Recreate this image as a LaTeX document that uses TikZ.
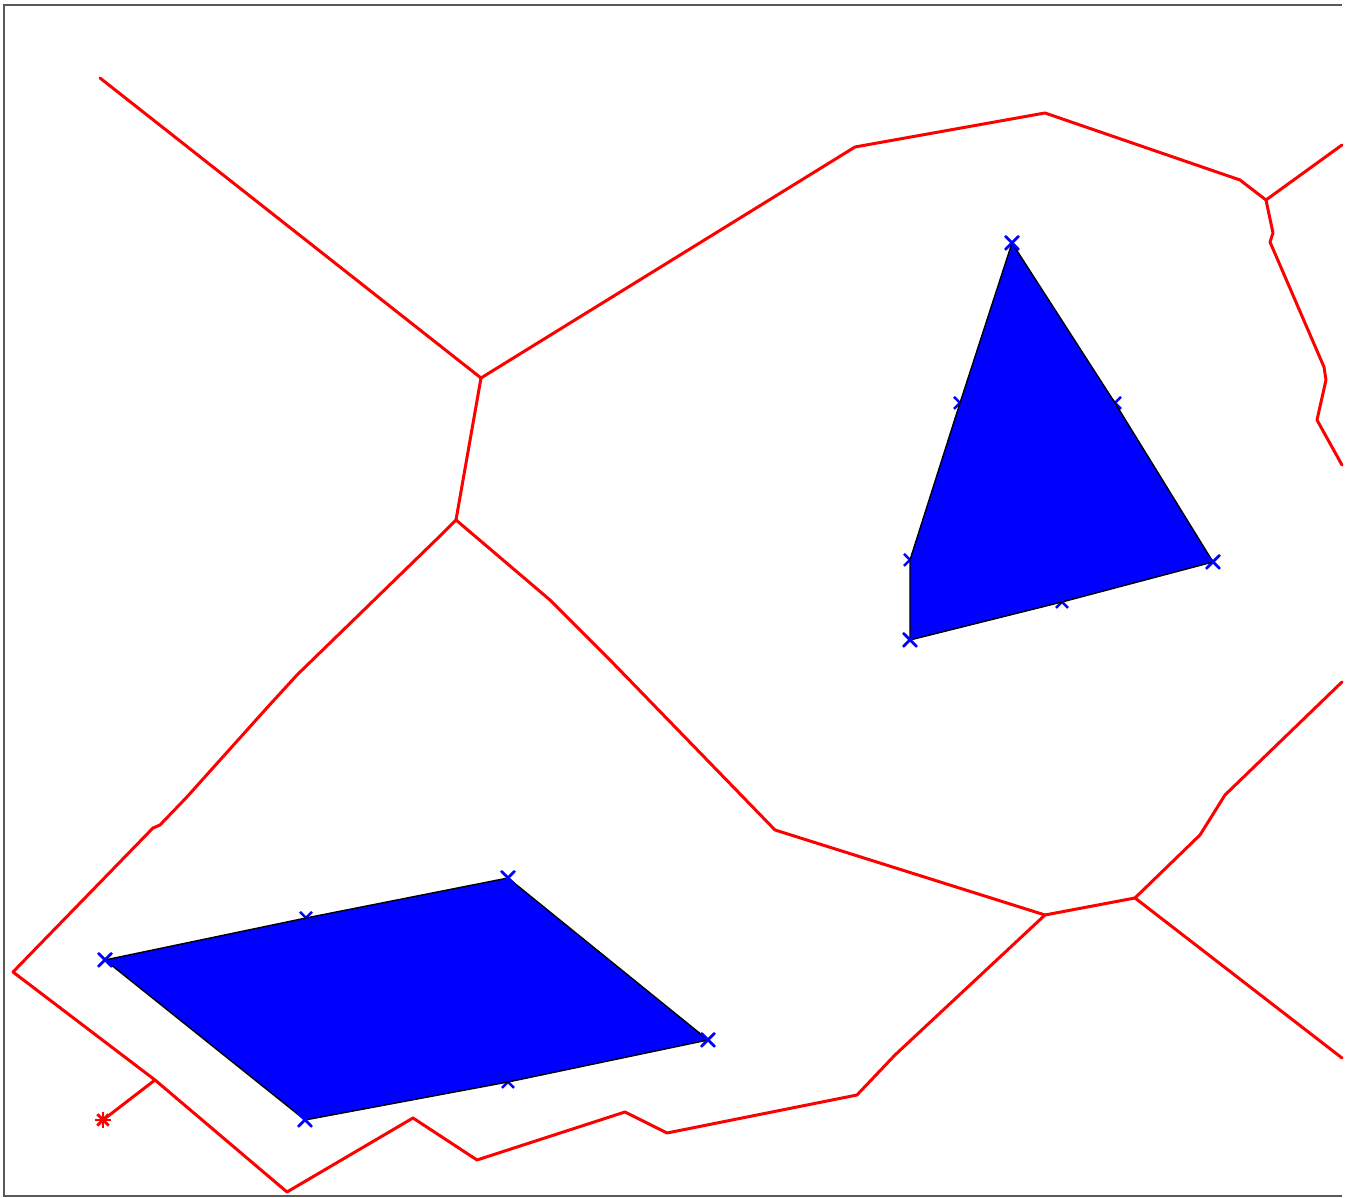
\documentclass[tikz,border=0pt]{standalone}
\begin{document}
\begin{tikzpicture}[x=0.01cm,y=-0.01cm,
  edge/.style={draw=red,line width=0.85pt,line join=round,line cap=round},
  obst/.style={fill=blue,draw=black,line width=0.4pt},
  xmark/.style={draw=blue,line width=0.7pt},
  frame/.style={draw=black!65,line width=0.6pt}]
\useasboundingbox (0,0) rectangle (1347,1198);
\fill[white] (0,0) rectangle (1347,1198);
\draw[frame] (1342,5) -- (4,5) -- (4,1196) -- (1342,1196);
% junctions
\coordinate (J1) at (481,378);
\coordinate (J2) at (456,520);
\coordinate (J3) at (1045,915);
\coordinate (J4) at (1135,898);
\coordinate (J5) at (1266,200);
\coordinate (L) at (13,972);
\coordinate (B) at (155,1080);
\coordinate (S) at (103,1120);
% red edges
\draw[edge] (100,78) -- (J1);
\draw[edge] (J1) -- (855,147) -- (1045,113) -- (1240,180) -- (J5);
\draw[edge] (J5) -- (1342,145);
\draw[edge] (J5) -- (1273,233) -- (1270,242) -- (1324,367) -- (1326,380) -- (1317,420) -- (1342,465);
\draw[edge] (J1) -- (J2);
\draw[edge] (J2) -- (440,536) -- (297,675) -- (265,710) -- (186,798) -- (160,825) -- (153,828) -- (L);
\draw[edge] (J2) -- (550,600) -- (610,660) -- (775,830) -- (J3);
\draw[edge] (J3) -- (J4);
\draw[edge] (J4) -- (1200,835) -- (1225,795) -- (1342,682);
\draw[edge] (J4) -- (1342,1058);
\draw[edge] (J3) -- (895,1055) -- (857,1095) -- (667,1133) -- (625,1112) -- (477,1160) -- (413,1118) -- (287,1192) -- (B) -- (L);
\draw[edge] (B) -- (S);
% star marker
\foreach \a in {0,45,90,135}
  \draw[red,line width=0.8pt] (S) ++(\a:8) -- ++(\a+180:16);
% markers (behind)
\foreach \p in {(1012,243),(1213,562),(910,640),(910,560),(960,403),(1115,403),(1062,602),
                (105,960),(508,878),(708,1040),(305,1120),(306,918),(508,1082)}
  \draw[xmark] \p ++(-6,-6) -- ++(12,12) \p ++(-6,6) -- ++(12,-12);
% obstacles
\path[obst] (1012,243) -- (1115,403) -- (1213,562) -- (1062,602) -- (910,640) -- (910,560) -- (960,403) -- cycle;
\path[obst] (105,960) -- (306,918) -- (508,878) -- (708,1040) -- (508,1082) -- (305,1120) -- cycle;
% vertex marks on top
\foreach \p in {(1012,243),(1213,562),(910,640),(508,878),(708,1040),(305,1120),(105,960)}
  \draw[xmark] \p ++(-7,-7) -- ++(14,14) \p ++(-7,7) -- ++(14,-14);
\end{tikzpicture}
\end{document}
